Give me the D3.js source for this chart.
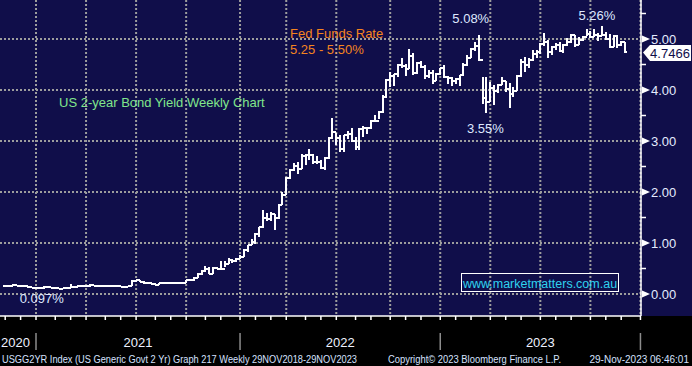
<!DOCTYPE html>
<html>
<head>
<meta charset="utf-8">
<title>US 2-year Bond Yield Weekly</title>
<script src="https://cdn.jsdelivr.net/npm/d3@7"></script>
<style>
body { margin: 0; background: #000; }
svg { display: block; }
text { font-family: "Liberation Sans", Arial, sans-serif; }
</style>
</head>
<body>
<svg width="692" height="366"></svg>
<script>

// weekly bars, first one ends Fri 30 Oct 2020
var firstWeek = "2020-10-30";

var closes = [
  0.16,0.15,0.18,0.16,0.16,0.15,0.13,0.12,0.12,0.12,
  0.14,0.13,0.12,0.11,0.10,0.11,0.11,0.13,0.14,0.16,
  0.15,0.15,0.18,0.16,0.16,0.16,0.16,0.15,0.15,0.15,
  0.14,0.14,0.15,0.25,0.27,0.24,0.21,0.22,0.20,0.18,
  0.21,0.21,0.22,0.21,0.21,0.21,0.22,0.27,0.27,0.32,
  0.40,0.45,0.50,0.40,0.51,0.50,0.50,0.59,0.66,0.64,
  0.69,0.73,0.87,0.97,1.01,1.17,1.31,1.50,1.47,1.57,
  1.50,1.75,1.94,2.27,2.44,2.51,2.46,2.70,2.72,2.72,
  2.58,2.58,2.47,2.66,3.06,3.17,3.05,2.84,3.11,3.13,
  3.00,2.88,3.24,3.25,3.25,3.39,3.39,3.56,3.87,4.20,
  4.28,4.31,4.49,4.48,4.41,4.66,4.33,4.53,4.46,4.28,
  4.34,4.18,4.31,4.43,4.25,4.23,4.18,4.21,4.29,4.50,
  4.62,4.81,4.86,4.59,3.84,3.77,4.03,3.99,4.09,4.18,
  4.01,3.92,3.98,4.28,4.55,4.50,4.59,4.71,4.74,4.90,
  4.94,4.74,4.84,4.88,4.77,4.89,4.94,5.08,4.88,4.99,
  5.03,5.10,5.04,5.08,5.05,5.08,5.00,4.84,5.06,4.89,
  4.95,4.7466
];

var highs = [
  0.17,0.17,0.19,0.18,0.17,0.17,0.16,0.13,0.13,0.13,
  0.15,0.15,0.13,0.13,0.12,0.12,0.12,0.19,0.16,0.17,
  0.16,0.16,0.20,0.18,0.17,0.17,0.17,0.17,0.17,0.17,
  0.16,0.16,0.16,0.27,0.28,0.27,0.25,0.24,0.22,0.21,
  0.22,0.23,0.23,0.23,0.22,0.22,0.24,0.28,0.30,0.33,
  0.42,0.47,0.55,0.53,0.53,0.53,0.64,0.64,0.70,0.69,
  0.70,0.77,0.89,0.97,1.07,1.20,1.32,1.64,1.58,1.60,
  1.57,1.76,2.00,2.30,2.46,2.56,2.58,2.74,2.74,2.84,
  2.75,2.71,2.63,2.69,3.07,3.45,3.15,3.12,3.12,3.20,
  3.26,3.07,3.26,3.29,3.28,3.41,3.51,3.58,3.91,4.22,
  4.35,4.32,4.51,4.63,4.51,4.80,4.72,4.54,4.57,4.50,
  4.40,4.39,4.33,4.44,4.49,4.27,4.26,4.24,4.30,4.52,
  4.69,4.83,4.94,5.08,4.25,4.25,4.16,4.09,4.12,4.26,
  4.18,4.13,4.06,4.30,4.60,4.64,4.62,4.78,4.79,4.92,
  5.12,4.98,4.86,4.92,4.94,4.90,5.01,5.10,5.08,5.03,
  5.05,5.20,5.15,5.19,5.11,5.26,5.13,5.09,5.07,5.07,
  4.97,4.95
];

var lows = [
  0.14,0.14,0.15,0.15,0.15,0.14,0.12,0.11,0.11,0.11,
  0.097,0.12,0.11,0.10,0.10,0.10,0.10,0.11,0.12,0.13,
  0.14,0.14,0.14,0.15,0.15,0.15,0.15,0.14,0.14,0.14,
  0.14,0.13,0.14,0.15,0.24,0.24,0.19,0.21,0.18,0.18,
  0.17,0.20,0.21,0.21,0.20,0.20,0.20,0.21,0.26,0.26,
  0.32,0.38,0.43,0.40,0.39,0.49,0.49,0.52,0.59,0.61,
  0.62,0.68,0.73,0.83,0.96,0.98,1.12,1.29,1.43,1.44,
  1.25,1.48,1.74,1.94,2.26,2.41,2.36,2.46,2.53,2.62,
  2.55,2.55,2.46,2.43,2.65,3.04,2.92,2.78,2.79,3.03,
  2.99,2.82,2.83,3.07,3.14,3.24,3.37,3.43,3.55,3.85,
  4.05,4.08,4.26,4.43,4.28,4.42,4.29,4.32,4.44,4.21,
  4.23,4.12,4.18,4.29,4.24,4.12,4.08,4.12,4.08,4.27,
  4.48,4.63,4.77,4.56,3.72,3.55,3.76,3.70,3.94,4.09,
  3.96,3.65,3.87,3.98,4.26,4.35,4.43,4.57,4.63,4.70,
  4.86,4.63,4.68,4.79,4.75,4.73,4.87,4.92,4.85,4.89,
  4.96,5.05,5.02,5.03,4.96,5.05,4.99,4.82,4.85,4.83,
  4.87,4.72
];

var yTicks = [0, 1, 2, 3, 4, 5];
var yMinor = [0.5, 1.5, 2.5, 3.5, 4.5, 5.5];
var yearLabels = ["2020", "2021", "2022", "2023"];

// point labels: week index + value they sit next to
var notes = [
  {text: "5.08%", week: 123, value: 5.08},
  {text: "5.26%", week: 155, value: 5.26},
  {text: "3.55%", week: 125, value: 3.55},
  {text: "0.097%", week: 10, value: 0.097}
];

var navy = "#100e4a";

var svg = d3.select("svg");
var plotRight = 641, plotBottom = 316;

var weekMs = 7 * 864e5;
var start = d3.utcParse("%Y-%m-%d")(firstWeek);

// bloomberg spaces the bars evenly by week
var x = d3.scaleLinear().domain([0, 165]).range([5.2, 640.45]);
var y = d3.scaleLinear().domain([0, 5]).range([294, 39]);

function dateX(d) {
  var k = Math.ceil((d - start) / weekMs);
  return x(k - 1);
}

svg.append("rect")
    .attr("width", 692).attr("height", plotBottom)
    .attr("fill", navy);

var quarters = d3.utcMonth.every(3).range(new Date(Date.UTC(2020, 10, 1)), new Date(Date.UTC(2024, 0, 2)));
var months = d3.utcMonth.range(new Date(Date.UTC(2020, 10, 1)), new Date(Date.UTC(2024, 0, 2)));
var years = d3.utcYear.range(new Date(Date.UTC(2020, 10, 1)), new Date(Date.UTC(2024, 0, 2)));

var grid = svg.append("g")
    .attr("stroke", "#9d9d9d")
    .attr("stroke-width", 2)
    .attr("stroke-dasharray", "2,2");

grid.selectAll(".gy").data(yTicks).enter().append("line")
    .attr("x1", 0).attr("x2", plotRight)
    .attr("y1", function(d) { return y(d); })
    .attr("y2", function(d) { return y(d); });

grid.selectAll(".gx").data(quarters).enter().append("line")
    .attr("x1", dateX).attr("x2", dateX)
    .attr("y1", 0).attr("y2", plotBottom);

// text drawn on the chart
svg.append("text")
    .attr("x", 290).attr("y", 38)
    .attr("fill", "#f5841f").attr("font-size", 13)
    .text("Fed Funds Rate");
svg.append("text")
    .attr("x", 290).attr("y", 54)
    .attr("fill", "#f5841f").attr("font-size", 13)
    .text("5.25 - 5.50%");
svg.append("text")
    .attr("x", 59).attr("y", 107)
    .attr("fill", "#80e68c").attr("font-size", 13)
    .text("US 2-year Bond Yield Weekly Chart");

// weekly OHLC bars
var bars = svg.append("g")
    .attr("stroke", "#fff")
    .attr("stroke-width", 2)
    .attr("fill", "none")
    .attr("shape-rendering", "crispEdges");

bars.selectAll("path").data(closes).enter().append("path")
    .attr("d", function(c, i) {
      var cx = x(i), open = i > 0 ? closes[i - 1] : c;
      return "M" + cx + "," + y(highs[i]) + "V" + y(lows[i]) +
             "M" + (cx - 2) + "," + y(open) + "H" + cx +
             "M" + cx + "," + y(c) + "H" + (cx + 2);
    });

var noteOffset = {"5.08%": [-8, -12], "5.26%": [-5, -6], "3.55%": [-1, 20], "0.097%": [-2, 14]};
svg.selectAll(".note").data(notes).enter().append("text")
    .attr("x", function(d) { return x(d.week) + noteOffset[d.text][0]; })
    .attr("y", function(d) { return y(d.value) + noteOffset[d.text][1]; })
    .attr("text-anchor", "middle")
    .attr("fill", "#dfe8ff").attr("font-size", 13)
    .text(function(d) { return d.text; });

// watermark
svg.append("rect")
    .attr("x", 461.5).attr("y", 273.5).attr("width", 157).attr("height", 18)
    .attr("fill", "none").attr("stroke", "#fff");
svg.append("text")
    .attr("x", 540).attr("y", 287.5)
    .attr("text-anchor", "middle")
    .attr("fill", "#2fd2ee").attr("font-size", 12.5)
    .text("www.marketmatters.com.au");

// frame
svg.append("line").attr("x1", plotRight).attr("x2", plotRight).attr("y1", 0).attr("y2", plotBottom)
    .attr("stroke", "#fff").attr("stroke-width", 1.5);
svg.append("rect").attr("x", 0).attr("y", plotBottom).attr("width", 692).attr("height", 50).attr("fill", "#000");
svg.append("line").attr("x1", 0).attr("x2", plotRight).attr("y1", plotBottom).attr("y2", plotBottom)
    .attr("stroke", "#fff").attr("stroke-width", 1.5);

// right axis
var ax = svg.append("g");
ax.selectAll(".tri").data(yTicks).enter().append("path")
    .attr("d", function(d) { var v = y(d); return "M642," + (v - 3.5) + "L650," + v + "L642," + (v + 3.5) + "Z"; })
    .attr("fill", "#fff");
ax.selectAll(".minor").data(yMinor).enter().append("line")
    .attr("x1", 641).attr("x2", 646)
    .attr("y1", function(d) { return y(d); }).attr("y2", function(d) { return y(d); })
    .attr("stroke", "#fff").attr("stroke-width", 1.5);
ax.selectAll(".lab").data(yTicks).enter().append("text")
    .attr("x", 651).attr("y", function(d) { return y(d) + 5; })
    .attr("fill", "#e4ecff").attr("font-size", 13)
    .text(d3.format(".2f"));

// last price tag
var last = closes[closes.length - 1], ly = y(last);
svg.append("path")
    .attr("d", "M643," + (ly + 0.5) + "L650," + (ly - 7) + "L691," + (ly - 7) + "L691," + (ly + 9) + "L650," + (ly + 9) + "Z")
    .attr("fill", "#fff");
svg.append("text")
    .attr("x", 670).attr("y", ly + 6)
    .attr("text-anchor", "middle")
    .attr("fill", navy).attr("font-size", 13)
    .text(d3.format(".4f")(last));

// bottom axis: monthly ticks, year separators
svg.selectAll(".mt").data(months).enter().append("line")
    .attr("x1", dateX).attr("x2", dateX)
    .attr("y1", plotBottom).attr("y2", plotBottom + 4)
    .attr("stroke", "#fff").attr("stroke-width", 1.5);

svg.selectAll(".ys").data(years).enter().append("line")
    .attr("x1", dateX).attr("x2", dateX)
    .attr("y1", 333).attr("y2", 350)
    .attr("stroke", "#8c8c8c").attr("stroke-width", 1.5);

var yearEdges = [0].concat(years.map(dateX));
svg.selectAll(".yl").data(yearLabels).enter().append("text")
    .attr("x", function(d, i) { return i === 0 ? 1 : (yearEdges[i] + yearEdges[i + 1]) / 2; })
    .attr("y", 347)
    .attr("text-anchor", function(d, i) { return i === 0 ? "start" : "middle"; })
    .attr("fill", "#eef2ff").attr("font-size", 13)
    .text(function(d) { return d; });

// footer
var foot = svg.append("g").attr("fill", "#d6e2ff").attr("font-size", 10);
foot.append("text").attr("x", 2).attr("y", 363).attr("textLength", 355).attr("lengthAdjust", "spacingAndGlyphs")
    .text("USGG2YR Index (US Generic Govt 2 Yr) Graph 217  Weekly 29NOV2018-29NOV2023");
foot.append("text").attr("x", 388).attr("y", 363).attr("textLength", 173).attr("lengthAdjust", "spacingAndGlyphs")
    .text("Copyright\u00a9 2023 Bloomberg Finance L.P.");
foot.append("text").attr("x", 689).attr("y", 363).attr("text-anchor", "end")
    .text("29-Nov-2023 06:46:01");

</script>
</body>
</html>
